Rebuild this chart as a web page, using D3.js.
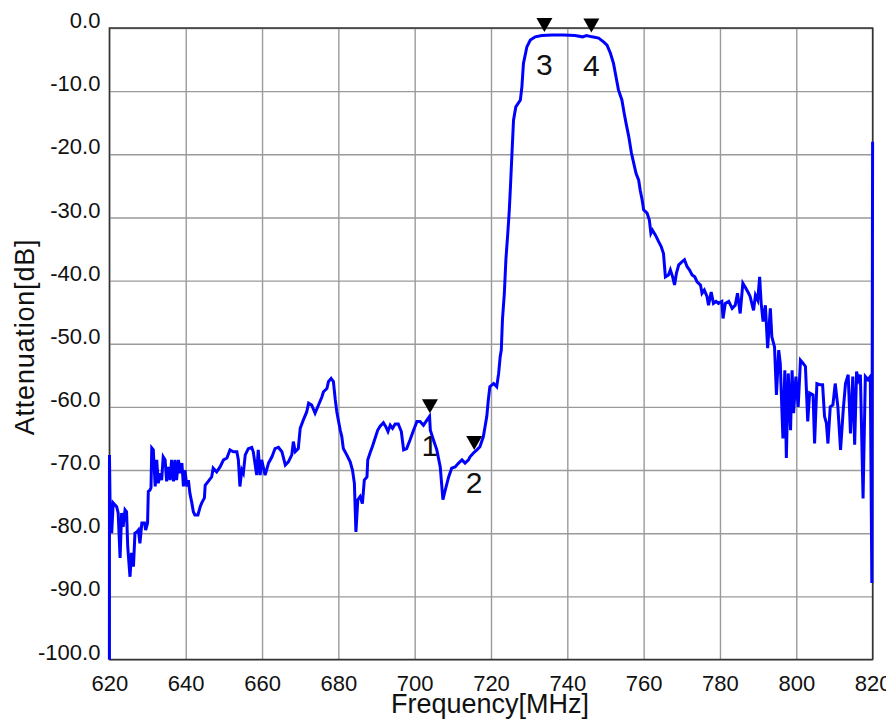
<!DOCTYPE html>
<html>
<head>
<meta charset="utf-8">
<script src="https://cdnjs.cloudflare.com/ajax/libs/d3/7.8.5/d3.min.js"></script>
<style>
  body { margin: 0; background: #fff; }
  text { font-family: Arial, "Liberation Sans", sans-serif; }
</style>
</head>
<body>
<div id="chart"></div>
<script>
var width  = 886;
var height = 719;

// trace (MHz / dB)
var freq = [620.0,620.02,620.16,620.6,621.0,621.9,622.3,622.8,623.2,623.6,624.1,624.5,624.8,625.4,625.8,626.3,626.7,627.2,627.6,628.0,
  628.5,629.2,629.5,630.0,630.2,630.6,630.9,631.1,631.5,632.0,632.4,632.8,633.3,633.7,634.1,634.6,635.0,635.4,635.9,636.3,
  636.8,637.2,637.6,638.1,638.5,639.0,639.4,639.8,640.3,640.7,641.1,641.6,642.0,642.4,643.2,643.8,644.2,644.9,645.1,645.9,
  646.8,647.2,648.1,649.0,649.9,650.8,651.6,652.5,653.4,653.8,654.2,654.7,655.1,655.6,656.4,657.3,657.7,658.6,659.0,659.5,
  659.9,660.8,661.7,662.6,663.4,664.3,665.2,666.1,666.9,667.8,668.2,668.7,669.5,670.0,670.8,671.7,672.2,673.0,673.9,674.8,
  675.7,676.1,677.0,677.4,678.1,678.7,679.2,679.6,680.0,680.5,680.9,681.3,682.2,683.1,683.7,684.2,684.6,685.1,685.7,686.3,
  686.8,687.5,687.7,688.3,688.9,689.6,690.3,690.9,691.8,692.4,693.0,693.6,694.2,694.9,695.7,696.5,697.1,697.9,698.8,699.7,
  700.6,701.4,702.3,703.2,703.9,704.1,704.9,705.8,706.7,707.4,708.0,708.9,709.7,710.6,711.5,712.4,713.2,714.1,714.5,715.4,
  716.3,717.1,718.0,718.9,719.3,719.7,720.7,721.5,722.0,722.4,722.7,723.0,723.5,723.9,724.4,724.8,725.1,725.5,725.9,726.5,
  727.7,728.1,728.5,729.4,730.3,731.6,733.3,736.0,739.0,742.0,744.0,745.0,746.5,748.2,749.5,750.4,751.3,752.1,752.6,753.0,
  753.4,754.3,754.9,755.4,756.1,756.8,757.4,758.0,758.7,759.1,759.6,760.0,760.9,761.5,761.9,762.3,763.1,763.9,764.6,765.2,
  765.7,766.5,767.0,767.6,768.1,768.6,769.2,770.1,770.7,771.4,772.0,772.7,773.4,774.0,774.9,775.3,775.9,776.6,777.0,777.7,
  778.3,779.0,779.6,780.5,780.8,781.4,782.3,783.2,784.0,784.6,785.3,786.0,786.6,787.5,787.9,788.8,789.3,789.9,790.4,790.8,
  791.3,791.9,792.5,793.2,793.6,794.3,794.8,795.4,795.8,796.5,797.0,797.4,797.9,798.5,798.9,799.3,799.9,800.5,801.1,801.8,
  802.4,803.0,803.5,804.4,804.8,805.4,806.3,806.9,807.4,807.9,808.3,808.9,809.6,810.2,810.9,811.6,812.3,812.9,813.6,814.2,
  814.8,815.3,815.8,816.3,816.8,817.5,818.1,818.8,819.4,819.8,820.0];

var atten = [-100,-67.6,-74.7,-80.0,-75.2,-75.8,-76.8,-83.9,-76.8,-79.0,-76.3,-76.6,-82.1,-86.9,-83.1,-85.3,-80.0,-79.8,-79.5,-81.6,
  -78.4,-78.4,-79.5,-78.4,-73.4,-73.2,-72.8,-66.5,-66.8,-72.6,-68.4,-72.1,-70.5,-71.6,-67.9,-68.4,-71.8,-69.5,-71.6,-68.4,
  -71.8,-68.4,-71.6,-68.4,-70.5,-68.9,-72.6,-70.0,-72.6,-71.6,-73.7,-75.2,-76.6,-77.1,-77.1,-75.8,-75.2,-74.4,-72.4,-71.8,
  -71.1,-69.7,-70.3,-69.5,-68.4,-68.1,-66.8,-67.1,-67.1,-68.4,-72.6,-70.0,-70.5,-67.6,-66.6,-66.4,-67.1,-70.8,-66.8,-70.8,
  -68.4,-70.8,-68.9,-67.9,-66.6,-66.4,-67.1,-69.2,-68.7,-67.6,-65.5,-67.1,-66.6,-63.4,-62.1,-60.8,-59.4,-59.7,-61.0,-59.7,
  -58.4,-57.6,-57.1,-56.0,-55.5,-56.0,-58.9,-60.8,-62.1,-63.7,-64.7,-66.6,-67.6,-68.7,-70.0,-72.1,-79.8,-74.7,-74.2,-75.3,
  -71.6,-71.1,-68.4,-67.3,-66.3,-65.0,-63.7,-63.1,-62.5,-63.1,-63.9,-62.9,-63.4,-62.7,-62.7,-63.9,-66.8,-66.6,-65.2,-63.7,
  -62.3,-62.3,-62.9,-62.1,-61.5,-63.7,-65.2,-66.8,-69.5,-74.7,-73.2,-71.1,-69.7,-69.5,-68.9,-68.4,-68.9,-68.4,-67.9,-67.3,
  -66.8,-66.3,-64.7,-61.5,-58.9,-56.8,-56.3,-56.8,-54.7,-52.1,-51.0,-46.2,-42.0,-36.7,-32.5,-28.8,-25.1,-19.8,-14.6,-12.5,
  -11.4,-9.3,-5.6,-3.0,-1.9,-1.4,-1.2,-1.1,-1.1,-1.2,-1.4,-1.2,-1.4,-1.6,-2.2,-2.7,-4.0,-5.6,-7.2,-8.5,
  -9.8,-11.4,-13.5,-15.1,-17.2,-19.8,-21.4,-23.0,-24.1,-25.7,-27.2,-28.8,-29.3,-30.4,-32.5,-32.0,-32.8,-33.8,-34.6,-35.7,
  -39.4,-39.1,-38.3,-39.4,-40.7,-38.8,-37.5,-37.0,-36.7,-37.8,-38.3,-39.1,-39.4,-40.2,-40.7,-42.0,-41.5,-42.5,-43.9,-41.8,
  -43.6,-43.3,-43.6,-43.3,-46.0,-43.6,-43.3,-44.4,-43.9,-42.0,-45.2,-40.4,-41.0,-42.0,-42.5,-44.7,-42.3,-43.1,-39.4,-43.6,
  -46.5,-43.9,-50.7,-44.4,-48.9,-50.5,-58.1,-51.0,-53.1,-65.0,-54.2,-68.1,-54.7,-63.7,-54.2,-61.0,-55.2,-60.0,-52.6,-53.1,
  -53.6,-62.3,-57.8,-58.1,-65.8,-56.3,-56.5,-56.5,-61.5,-62.6,-65.8,-60.0,-59.7,-56.3,-60.0,-66.8,-60.5,-56.3,-54.9,-64.2,
  -55.2,-66.0,-54.4,-55.7,-54.9,-74.5,-55.2,-55.7,-55.2,-87.9,-18.0];

var markerFreq  = [704.0, 715.6, 734.0, 746.3];
var markerVal   = [-61.5, -67.3, -1.1, -1.2];
var markerLabel = ["1", "2", "3", "4"];

var xTicks = [620, 640, 660, 680, 700, 720, 740, 760, 780, 800, 820];
var yTicks = [0, -10, -20, -30, -40, -50, -60, -70, -80, -90, -100];

var plotLeft = 109.4, plotRight = 872.6, plotTop = 28, plotBottom = 659.5;

var svg = d3.select("#chart")
  .append("svg")
    .attr("width", width)
    .attr("height", height);

var x = d3.scaleLinear().domain([620, 820]).range([plotLeft, plotRight]);
var y = d3.scaleLinear().domain([-100, 0]).range([plotBottom, plotTop]);

// plain hyphen instead of d3's unicode minus
var fmtY = function(d) { return d3.format(".1f")(d).replace("\u2212", "-"); };

// grid + tick labels
var xAxis = svg.append("g")
  .attr("transform", "translate(0," + plotBottom + ")")
  .call(d3.axisBottom(x).tickValues(xTicks).tickSize(-(plotBottom - plotTop)).tickPadding(16).tickFormat(d3.format("d")));

var yAxis = svg.append("g")
  .attr("transform", "translate(" + plotLeft + ",0)")
  .call(d3.axisLeft(y).tickValues(yTicks).tickSize(-(plotRight - plotLeft)).tickPadding(9).tickFormat(fmtY));

[xAxis, yAxis].forEach(function(g) {
  g.select(".domain").remove();
  g.selectAll(".tick line").attr("stroke", "#9a9a9a").attr("stroke-width", 1.4);
  g.selectAll(".tick text").attr("fill", "#111").style("font-size", "22px");
});
yAxis.selectAll(".tick text").attr("dy", "-0.02em");

// frame
svg.append("rect")
  .attr("x", plotLeft).attr("y", plotTop)
  .attr("width", plotRight - plotLeft).attr("height", plotBottom - plotTop)
  .attr("fill", "none").attr("stroke", "#333").attr("stroke-width", 1.5);

// trace
var line = d3.line()
  .x(function(d, i) { return x(freq[i]); })
  .y(function(d) { return y(d); });

svg.append("path")
  .datum(atten)
  .attr("d", line)
  .attr("fill", "none")
  .attr("stroke", "#0000ff")
  .attr("stroke-width", 3)
  .attr("stroke-linejoin", "miter");

// markers
var mk = svg.selectAll(".marker")
  .data(markerFreq)
  .enter()
  .append("g")
    .attr("class", "marker")
    .attr("transform", function(d, i) { return "translate(" + x(d) + "," + y(markerVal[i]) + ")"; });

mk.append("path")
  .attr("d", "M-8,-17 L8,-17 L0,-3 Z")
  .attr("fill", "#000");

mk.append("text")
  .attr("text-anchor", "middle")
  .attr("y", 40)
  .style("font-size", "30px")
  .attr("fill", "#111")
  .text(function(d, i) { return markerLabel[i]; });

// axis titles
svg.append("text")
  .attr("x", 490)
  .attr("y", 713)
  .attr("text-anchor", "middle")
  .style("font-size", "27px")
  .attr("fill", "#111")
  .text("Frequency[MHz]");

svg.append("text")
  .attr("transform", "translate(34,337) rotate(-90)")
  .attr("text-anchor", "middle")
  .style("font-size", "27px")
  .style("letter-spacing", "0.8px")
  .attr("fill", "#111")
  .text("Attenuation[dB]");
</script>
</body>
</html>
